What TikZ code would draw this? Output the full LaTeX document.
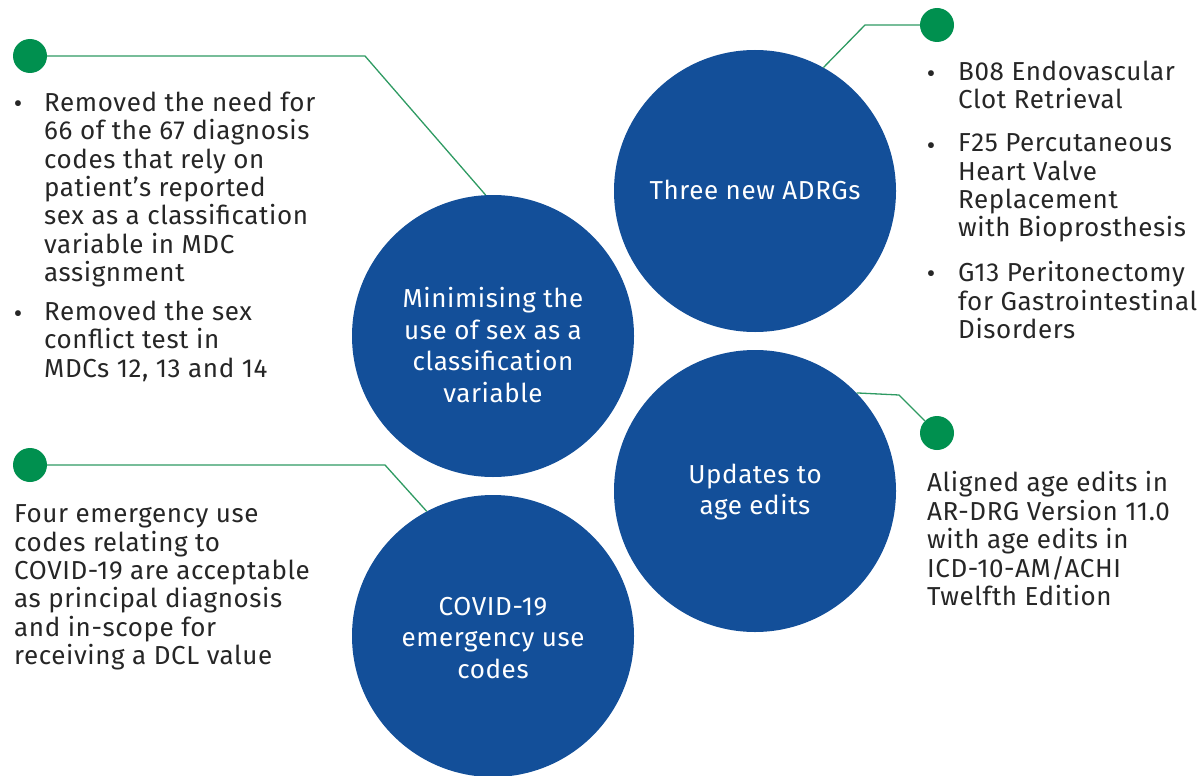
\documentclass[tikz,border=0pt]{standalone}
\usepackage{fontspec}
\setmainfont{Fira Sans}[LetterSpace=2.3]
\definecolor{cblue}{HTML}{134F99}
\definecolor{dgreen}{HTML}{00904F}
\definecolor{lgreen}{HTML}{2E9A62}
\definecolor{txt}{HTML}{262626}
\tikzset{
  bigcirc/.style={circle, fill=cblue, minimum size=282pt, inner sep=0pt},
  ctext/.style={text=white, align=center, inner sep=0pt, font=\fontsize{26}{31.5}\selectfont},
  gdot/.style={circle, fill=dgreen, minimum size=34pt, inner sep=0pt},
  link/.style={draw=lgreen, line width=1.3pt},
  body/.style={text=txt, align=left, anchor=north west, inner sep=0pt, font=\fontsize{26}{28.4}\selectfont},
  bul/.style={text=txt, anchor=center, inner sep=0pt, font=\fontsize{26}{26}\selectfont},
}
\begin{document}
\begin{tikzpicture}[x=1pt,y=-1pt]
\useasboundingbox (0,0) rectangle (1202,776);
% circles
\node[bigcirc] (m) at (493,336) {};
\node[bigcirc] (a) at (755,191) {};
\node[bigcirc] (u) at (755,491) {};
\node[bigcirc] (c) at (493,636) {};
\node[ctext] (mt) at (493,345) {Minimising the\\use of sex as a\\classification\\variable};
\node[ctext] (at) at (755,190) {Three new ADRGs};
\node[ctext] (ut) at (755,492) {Updates to\\age edits};
\node[ctext] (ct) at (493,638) {COVID-19\\emergency use\\codes};
% dots
\node[gdot] (d1) at (30,56) {};
\node[gdot] (d2) at (937,25) {};
\node[gdot] (d3) at (937,433) {};
\node[gdot] (d4) at (30,465) {};
\coordinate (b1) at (365,56);
\coordinate (b2) at (865,25);
\coordinate (b3) at (899,395);
\coordinate (b4) at (385,465);
\draw[link] (d1) -- (b1) -- (m.93);
\draw[link] (d2) -- (b2) -- (a.61);
\draw[link] (d3) -- (b3) -- (u.44);
\draw[link] (d4) -- (b4) -- (c.118);
% top-left text
\node[bul] (tlb1) at (18,107) {\textbullet};
\node[body] (tl1) at (44,91.5) {Removed the need for\\66 of the 67 diagnosis\\codes that rely on\\patient’s reported\\sex as a classification\\variable in MDC\\assignment};
\node[bul] (tlb2) at (18,317) {\textbullet};
\node[body] (tl2) at (44,300.5) {Removed the sex\\conflict test in\\MDCs 12, 13 and 14};
% top-right text
\node[bul] (trb1) at (931,77) {\textbullet};
\node[body] (tr1) at (958,60.5) {B08 Endovascular\\Clot Retrieval};
\node[bul] (trb2) at (931,149) {\textbullet};
\node[body] (tr2) at (958,133.5) {F25 Percutaneous\\Heart Valve\\Replacement\\with Bioprosthesis};
\node[bul] (trb3) at (931,277) {\textbullet};
\node[body] (tr3) at (958,261.5) {G13 Peritonectomy\\for Gastrointestinal\\Disorders};
% right-bottom text
\node[body] (ur) at (927,471.5) {Aligned age edits in\\AR-DRG Version 11.0\\with age edits in\\ICD-10-AM/ACHI\\Twelfth Edition};
% left-bottom text
\node[body] (cl) at (14,504.5) {Four emergency use\\codes relating to\\COVID-19 are acceptable\\as principal diagnosis\\and in-scope for\\receiving a DCL value};
\end{tikzpicture}
\end{document}
